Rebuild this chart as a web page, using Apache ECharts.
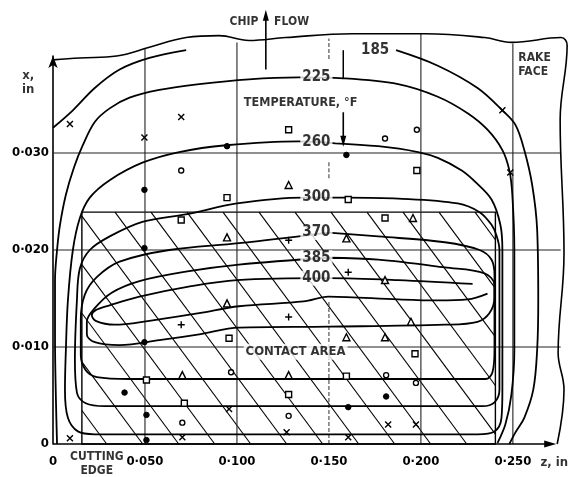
<!DOCTYPE html>
<html><head><meta charset="utf-8">
<script src="https://cdn.jsdelivr.net/npm/echarts@6/dist/echarts.min.js"></script>
<style>html,body{margin:0;padding:0;background:#fff}#c{width:574px;height:477px}</style>
</head><body><div id="c"></div>
<script>
const FONT = "'DejaVu Sans Condensed','Liberation Sans Narrow','DejaVu Sans',sans-serif";

// ---- axis tick labels ----
const xTickLabels = ['0', '0·050', '0·100', '0·150', '0·200', '0·250'];
const yTickLabels = ['0', '0·010', '0·020', '0·030'];

// ---- isotherm contours, [z (in), x (in)] ----
const contour185a = [[0,.0326],[.0108,.0344],[.0227,.0367],[.0362,.0386],[.0524,.0398],[.0724,.0406]];
const contour185b = [[.1865,.0406],[.2092,.0390],[.2308,.0367],[.2443,.0344],[.2514,.0329],[.2562,.0303],[.2605,.0267],[.2632,.0221],[.2638,.0148],[.2632,.0097],[.2611,.0056],[.2562,.0027],[.2514,.0012],[.2481,0]];
const contour225 = [[.0022,0],[.0016,.0045],[.0011,.0107],[.0011,.0169],[.0022,.0200],[.0038,.0226],[.0070,.0257],[.0114,.0285],[.0162,.0308],[.0227,.0332],[.0308,.0346],[.0416,.0357],[.0578,.0365],[.0795,.0371],[.1065,.0376],[.1335,.0378],[.1578,.0377],[.1876,.0371],[.2092,.0358],[.2254,.0341],[.2362,.0324],[.2443,.0303],[.2481,.0282],[.2497,.0257],[.2508,.0200],[.2508,.0097],[.2492,.0051],[.2459,.0020],[.2416,.0001]];
const contour260 = [[.1535,.0310],[.1335,.0312],[.0941,.0308],[.0686,.0301],[.0486,.0290],[.0308,.0272],[.0200,.0254],[.0146,.0233],[.0108,.0200],[.0081,.0148],[.0070,.0097],[.0065,.0056],[.0081,.0027],[.0135,.0013],[.0227,.0010],[.1335,.0010],[.2308,.0010],[.2400,.0013],[.2438,.0027],[.2443,.0056],[.2443,.0200],[.2432,.0226],[.2384,.0252],[.2297,.0270],[.2222,.0282],[.2092,.0295],[.1984,.0301],[.1768,.0307],[.1535,.0310]];
const contour300 = [[.1595,.0254],[.1362,.0254],[.1000,.0248],[.0730,.0237],[.0486,.0229],[.0308,.0214],[.0200,.0200],[.0146,.0181],[.0130,.0148],[.0119,.0087],[.0130,.0053],[.0178,.0042],[.0281,.0039],[.1335,.0039],[.2335,.0039],[.2400,.0043],[.2427,.0056],[.2427,.0200],[.2411,.0215],[.2384,.0226],[.2319,.0239],[.2200,.0248],[.1876,.0253],[.1595,.0254]];
const contour370 = [[.1497,.0218],[.1011,.0207],[.0632,.0200],[.0362,.0188],[.0238,.0172],[.0173,.0154],[.0151,.0128],[.0151,.0092],[.0178,.0076],[.0238,.0069],[.0416,.0067],[.1335,.0067],[.2351,.0067],[.2389,.0074],[.2400,.0097],[.2400,.0174],[.2384,.0190],[.2319,.0200],[.2130,.0208],[.1768,.0214],[.1497,.0218]];
const contour385 = [[.1497,.0192],[.1011,.0185],[.0730,.0178],[.0470,.0168],[.0319,.0156],[.0227,.0140],[.0184,.0126],[.0184,.0113],[.0227,.0105],[.0362,.0102],[.0578,.0107],[.0795,.0113],[.1011,.0120],[.1497,.0121],[.2130,.0123],[.2308,.0126],[.2373,.0135],[.2400,.0151],[.2400,.0164],[.2346,.0176],[.2130,.0182],[.1768,.0190],[.1497,.0192]];
const contour400 = [[.2281,.0165],[.1876,.0169],[.1497,.0171],[.1000,.0169],[.0730,.0162],[.0470,.0152],[.0308,.0143],[.0232,.0138],[.0211,.0133],[.0232,.0127],[.0335,.0123],[.0524,.0127],[.0795,.0135],[.1011,.0142],[.1362,.0147],[.1497,.0152],[.1876,.0149],[.2092,.0148],[.2254,.0149],[.2362,.0155]];

// ---- tool outline (broken edge of the rake face) ----
const toolOutline = [[0,.0396],[.0146,.0398],[.0346,.0400],[.0524,.0409],[.0724,.0419],[.0903,.0421],[.1065,.0416],[.1265,.0419],[.1627,.0423],[.2022,.0423],[.2346,.0419],[.2492,.0414],[.2762,.0419],[.2795,.0411],[.2757,.0334],[.2778,.0197],[.2746,.0094],[.2778,.0056],[.2741,0]];

// ---- reference lines ----
const xAxisEnd = 0.2703;
const gridLineZ = [0.05, 0.10, 0.20, 0.25];
const gridLineZTop = [.0408, .0414, .0423, .0413];
const gridLineX = [0.01, 0.02, 0.03];
const gridLineXEnd = 0.276;
const dashed150 = [[0, .0148], [.0274, .0292], [.0397, .0418]];
const contactArea = [0.0157, 0, 0.2405, 0.0239];
const hatchPhaseZ = 0.0292;

// ---- measurement points ----
const ptsCross = [[.0092,.0330],[.0497,.0316],[.0697,.0337],[.2443,.0344],[.2486,.0280],[.0092,.0006],[.0703,.0007],[.0957,.0036],[.1270,.0012],[.1605,.0007],[.1822,.0020],[.1973,.0020]];
const ptsCircle = [[.0697,.0282],[.1805,.0315],[.1978,.0324],[.0968,.0074],[.1811,.0071],[.1973,.0063],[.0703,.0022],[.1281,.0029]];
const ptsDot = [[.0946,.0307],[.0497,.0262],[.1595,.0298],[.0389,.0053],[.0508,.0030],[.1605,.0038],[.1811,.0049],[.0497,.0202],[.0497,.0105],[.0508,.0004]];
const ptsSquare = [[.0946,.0254],[.0697,.0231],[.1281,.0324],[.1978,.0282],[.1605,.0252],[.1805,.0233],[.0957,.0109],[.1968,.0093],[.1595,.0070],[.1281,.0051],[.0714,.0042],[.0508,.0066]];
const ptsTriangle = [[.0946,.0213],[.1957,.0233],[.1595,.0212],[.0946,.0145],[.1805,.0169],[.1946,.0126],[.1595,.0110],[.1805,.0110],[.0703,.0071],[.1281,.0071],[.1281,.0267]];
const ptsPlus = [[.1281,.0210],[.1281,.0131],[.0697,.0123],[.1605,.0177]];

// ---- labels ----
const contourLabelText = ['185', '225', '260', '300', '370', '385', '400'];
const contourLabelZ = [.1751, .1432, .1432, .1432, .1432, .1432, .1432];
const contourLabelX = [.0406, .0378, .0311, .0255, .0218, .0192, .0171];

const noteText = ['CHIP', 'FLOW', 'TEMPERATURE, °F', 'CONTACT AREA', 'RAKE\nFACE', 'CUTTING\nEDGE', 'x,\nin', 'z, in'];
const noteZ = [.1038, .1297, .1346, .1319, .2519, .0238, -.0135, .2811];
const noteX = [.0435, .0435, .0352, .0095, .0391, -.0021, .0373, -.0019];
const noteAlign = ['center', 'center', 'center', 'center', 'left', 'center', 'center', 'right'];
const noteSize = [12, 12, 12.5, 13, 12, 12, 13, 13];

const chipArrow = [[.1157, .0386], [.1157, .0442]];
const tempArrow = [[.1578, .0342], [.1578, .0312]];
const tempTick = [[.1578, .0406], [.1578, .0377]];

// ---- style constants ----
const HATCH_STEP = 36;    // px between hatch lines along the z direction
const HATCH_SLOPE = 1.35; // px down per px right

function lineSeries(data, opt) {
  opt = opt || {};
  return {
    type: 'line', data: data, symbol: 'none', showSymbol: false, clip: false, silent: true,
    animation: false, smooth: opt.smooth || 0, z: opt.z || 3,
    lineStyle: { color: opt.color || '#000', width: opt.width || 1.6, type: opt.type || 'solid' }
  };
}
function arrowSeries(pts, rot, size) {
  return {
    type: 'line', clip: false, silent: true, animation: false, z: 4,
    showSymbol: true,
    data: [{ value: pts[0], symbol: 'none' },
           { value: pts[1], symbol: 'triangle', symbolSize: size || [6, 11], symbolRotate: rot }],
    itemStyle: { color: '#000' },
    lineStyle: { color: '#000', width: 1.6 }
  };
}
function markerSeries(data, symbol, size, fill, bw) {
  return {
    type: 'scatter', data: data, symbol: symbol, symbolSize: size, clip: false,
    silent: true, animation: false, z: 6,
    itemStyle: { color: fill, borderColor: '#000', borderWidth: bw, opacity: 1 }
  };
}

const series = [];

// hatched contact area
series.push({
  type: 'custom', data: [contactArea], clip: false, silent: true, animation: false, z: 1,
  encode: { x: [0, 2], y: [1, 3] },
  renderItem: function (params, api) {
    const lb = api.coord([api.value(0), api.value(1)]);
    const rt = api.coord([api.value(2), api.value(3)]);
    const L = lb[0], B = lb[1], R = rt[0], T = rt[1];
    const H = B - T;
    const phase = api.coord([hatchPhaseZ, 0])[0];
    const children = [];
    let xb = phase - Math.ceil((phase - L) / HATCH_STEP) * HATCH_STEP;
    for (; xb < R + H / HATCH_SLOPE + HATCH_STEP; xb += HATCH_STEP) {
      let x1 = xb, y1 = B;
      if (x1 > R) { y1 = B - (x1 - R) * HATCH_SLOPE; x1 = R; }
      let x2 = xb - H / HATCH_SLOPE, y2 = T;
      if (x2 < L) { y2 = B - (xb - L) * HATCH_SLOPE; x2 = L; }
      if (y1 <= T || y2 >= B || x1 <= L) continue;
      children.push({ type: 'line', shape: { x1: x1, y1: y1, x2: x2, y2: y2 },
                      style: { stroke: '#000', lineWidth: 1.1 } });
    }
    children.push({ type: 'rect', shape: { x: L, y: T, width: R - L, height: H },
                    style: { fill: 'none', stroke: '#000', lineWidth: 1.4 } });
    return { type: 'group', children: children };
  }
});

// reference grid lines
gridLineX.forEach(function (v) {
  series.push(lineSeries([[0, v], [gridLineXEnd, v]], { width: 1.1, color: '#222', z: 2 }));
});
gridLineZ.forEach(function (v, i) {
  series.push(lineSeries([[v, 0], [v, gridLineZTop[i]]], { width: 1.1, color: '#222', z: 2 }));
});
dashed150.forEach(function (s) {
  series.push(lineSeries([[0.15, s[0]], [0.15, s[1]]], { width: 1.1, color: '#444', type: [4, 2], z: 2 }));
});

// x axis line with arrow
series.push(arrowSeries([[0, 0], [xAxisEnd, 0]], -90, [7, 12]));

// tool outline
series.push(lineSeries(toolOutline, { width: 1.6, smooth: 0.4 }));

// contours
[contour185a, contour185b, contour225, contour260, contour300, contour370, contour385, contour400]
  .forEach(function (c) { series.push(lineSeries(c, { width: 1.8, smooth: 0.35 })); });

// arrows
series.push(arrowSeries(chipArrow, 0));
series.push(arrowSeries(tempArrow, 180));
series.push(lineSeries(tempTick, { width: 1.5 }));

// measurement markers
series.push(markerSeries(ptsCross, 'path://M0,0L10,10M10,0L0,10', 6, 'none', 1.4));
series.push(markerSeries(ptsPlus, 'path://M5,0L5,10M0,5L10,5', 7, 'none', 1.4));
series.push(markerSeries(ptsCircle, 'circle', 5, '#fff', 1.4));
series.push(markerSeries(ptsDot, 'circle', 5.5, '#000', 1));
series.push(markerSeries(ptsSquare, 'rect', 6, '#fff', 1.4));
series.push(markerSeries(ptsTriangle, 'triangle', 7, '#fff', 1.4));

// text labels
const labelData = [];
contourLabelText.forEach(function (t, i) {
  labelData.push({ value: [contourLabelZ[i], contourLabelX[i]],
    label: { formatter: t, fontSize: 15, padding: [0, 2] } });
});
noteText.forEach(function (t, i) {
  labelData.push({ value: [noteZ[i], noteX[i]],
    label: { formatter: t, fontSize: noteSize[i], align: noteAlign[i], lineHeight: 14, padding: [1, 2] } });
});
series.push({
  type: 'scatter', data: labelData, symbolSize: 1, clip: false, silent: true, animation: false, z: 10,
  itemStyle: { color: 'rgba(0,0,0,0)' },
  label: { show: true, position: 'inside', color: '#000', fontFamily: FONT, fontWeight: 'bold',
           backgroundColor: '#fff' }
});

const chart = echarts.init(document.getElementById('c'), null, { renderer: 'canvas' });
chart.setOption({
  animation: false,
  backgroundColor: '#fff',
  grid: { left: 53, right: 0, top: 56, bottom: 33, containLabel: false },
  xAxis: {
    type: 'value', min: 0, max: 0.2816, interval: 0.05,
    axisLine: { show: false },
    axisTick: { show: false }, splitLine: { show: false },
    axisLabel: { margin: 11, color: '#000', fontFamily: FONT, fontWeight: 'bold', fontSize: 13,
      formatter: function (v) { const k = Math.round(v / 0.05); return Math.abs(v - k * 0.05) < 1e-6 && k < xTickLabels.length ? xTickLabels[k] : ''; } }
  },
  yAxis: {
    type: 'value', min: 0, max: 0.04, interval: 0.01,
    axisLine: { show: true, symbol: ['none', 'arrow'], symbolSize: [7, 12], lineStyle: { color: '#000', width: 1.6 } },
    axisTick: { show: false }, splitLine: { show: false },
    axisLabel: { margin: 4, color: '#000', fontFamily: FONT, fontWeight: 'bold', fontSize: 13,
      formatter: function (v) { const k = Math.round(v / 0.01); return k < yTickLabels.length ? yTickLabels[k] : ''; } }
  },
  series: series
});
</script>
</body></html>
